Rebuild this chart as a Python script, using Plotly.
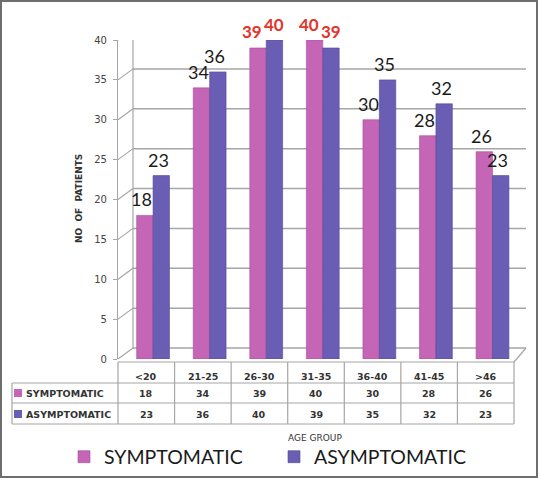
import plotly.graph_objects as go

categories = ["<20", "21-25", "26-30", "31-35", "36-40", "41-45", ">46"]
symptomatic = [18, 34, 39, 40, 30, 28, 26]
asymptomatic = [23, 36, 40, 39, 35, 32, 23]
y_ticks = [0, 5, 10, 15, 20, 25, 30, 35, 40]
highlight = ["26-30", "31-35"]

W, H = 538, 478
PINK = "#C565B6"
BLUE = "#6A5DB4"
GRID = "#A6A6A6"
TXT = "#333333"

def px(x):
    return x / W

def py(y):
    return 1 - y / H

X0, X1 = 118, 514          # plot area (front) in px
Y0, Y40 = 359, 40          # value 0 and 40 in px
DEPTH_X, DEPTH_Y = 15, 11  # perspective offset of the back wall
unit = (Y0 - Y40) / 40.0
dv = DEPTH_Y / unit
colw = (X1 - X0) / 7

fig = go.Figure()

bar_w = 0.29
fig.add_trace(go.Bar(x=categories, y=symptomatic, name="SYMPTOMATIC",
                     marker=dict(color=PINK, line=dict(color="#A94C9B", width=0.6)),
                     width=bar_w, offset=-0.17))
fig.add_trace(go.Bar(x=categories, y=asymptomatic, name="ASYMPTOMATIC",
                     marker=dict(color=BLUE, line=dict(color="#544799", width=0.6)),
                     width=bar_w, offset=-0.17 + bar_w))

shapes = []
# back wall gridlines and perspective connectors
for v in y_ticks:
    shapes.append(dict(type="line", xref="paper", yref="y",
                       x0=px(X0 + DEPTH_X), x1=px(X1 + 12), y0=v + dv, y1=v + dv,
                       line=dict(color=GRID, width=1.5), layer="below"))
    shapes.append(dict(type="line", xref="paper", yref="y",
                       x0=px(X0), x1=px(X0 + DEPTH_X), y0=v, y1=v + dv,
                       line=dict(color=GRID, width=1.2), layer="below"))
# back wall left edge
shapes.append(dict(type="line", xref="paper", yref="y",
                   x0=px(X0 + DEPTH_X), x1=px(X0 + DEPTH_X), y0=dv, y1=40 + dv,
                   line=dict(color=GRID, width=1.2), layer="below"))
# floor right diagonal
shapes.append(dict(type="line", xref="paper", yref="paper",
                   x0=px(X1), x1=px(X1 + 12), y0=py(362), y1=py(Y0 - DEPTH_Y),
                   line=dict(color=GRID, width=1.2), layer="below"))

# table lines
TL = 12
row_y = [362, 383, 403, 424]
col_x = [X0 + i * colw for i in range(8)]
shapes.append(dict(type="line", xref="paper", yref="paper",
                   x0=px(X0), x1=px(X1), y0=py(362), y1=py(362),
                   line=dict(color=GRID, width=1.2)))
for yy in row_y[1:]:
    shapes.append(dict(type="line", xref="paper", yref="paper",
                       x0=px(TL), x1=px(X1), y0=py(yy), y1=py(yy),
                       line=dict(color=GRID, width=1.2)))
for xx in col_x:
    shapes.append(dict(type="line", xref="paper", yref="paper",
                       x0=px(xx), x1=px(xx), y0=py(362), y1=py(424),
                       line=dict(color=GRID, width=1.2)))
shapes.append(dict(type="line", xref="paper", yref="paper",
                   x0=px(TL), x1=px(TL), y0=py(383), y1=py(424),
                   line=dict(color=GRID, width=1.2)))
# row label swatches
for yy, c in [(393, PINK), (414, BLUE)]:
    shapes.append(dict(type="rect", xref="paper", yref="paper",
                       x0=px(14), x1=px(22), y0=py(yy + 4), y1=py(yy - 4),
                       fillcolor=c, line=dict(width=0)))
# outer frame
shapes.append(dict(type="rect", xref="paper", yref="paper",
                   x0=px(1), x1=px(537), y0=py(477), y1=py(1),
                   line=dict(color="#6E6E6E", width=2)))

annotations = []
# data labels
for k, (series, xs) in enumerate([(symptomatic, -0.025), (asymptomatic, -0.025 + bar_w)]):
    for c, v in zip(categories, series):
        red = c in highlight
        extra = (-3 if k == 0 else 3) if red else 0
        annotations.append(dict(
            x=c, y=v, xref="x", yref="y", text=str(v), showarrow=False,
            xanchor="center", yanchor="middle",
            xshift=xs * colw - 3 + extra, yshift=16,
            font=dict(family="Lato", size=18 if not red else 17,
                      color="#E3342B" if red else "#1a1a1a",
                      weight="bold" if red else "normal")))

def ptext(x, y, text, font, xanchor="center", angle=0):
    return dict(x=px(x), y=py(y), xref="paper", yref="paper", text=text,
                showarrow=False, font=font, xanchor=xanchor, yanchor="middle",
                textangle=angle)

# table text
tfont = dict(family="DejaVu Sans", size=9.5, color=TXT, weight="bold")
for i, c in enumerate(categories):
    cx = (col_x[i] + col_x[i + 1]) / 2
    annotations.append(ptext(cx, 376, c.replace("<", "&lt;").replace(">", "&gt;"), tfont))
    annotations.append(ptext(cx, 393, str(symptomatic[i]), tfont))
    annotations.append(ptext(cx, 414, str(asymptomatic[i]), tfont))
annotations.append(ptext(24, 393, "SYMPTOMATIC", tfont, xanchor="left"))
annotations.append(ptext(24, 414, "ASYMPTOMATIC", tfont, xanchor="left"))

# axis titles
annotations.append(ptext(79, 199, "NO  OF  PATIENTS",
                         dict(family="DejaVu Sans", size=9, color=TXT, weight="bold"),
                         angle=-90))
annotations.append(ptext(315, 438, "AGE GROUP",
                         dict(family="DejaVu Sans", size=9, color=TXT)))

fig.update_layout(
    width=W, height=H,
    margin=dict(l=0, r=0, t=0, b=0, autoexpand=False),
    paper_bgcolor="white", plot_bgcolor="white",
    barmode="group",
    showlegend=True,
    legend=dict(orientation="h", x=px(64), xanchor="left", y=py(457), yanchor="middle",
                font=dict(family="Lato", size=19.5, color="#1a1a1a"),
                entrywidth=165, entrywidthmode="pixels", bgcolor="rgba(0,0,0,0)"),
    xaxis=dict(domain=[px(X0), px(X1)], showticklabels=False, showgrid=False,
               zeroline=False, showline=False, ticks=""),
    yaxis=dict(domain=[py(Y0), py(Y40)], range=[0, 40], tickvals=y_ticks,
               showgrid=False, zeroline=False, showline=True, linecolor=GRID,
               linewidth=1.2, ticks="outside", ticklen=4, tickcolor=GRID,
               ticklabelstandoff=4,
               tickfont=dict(family="DejaVu Sans", size=10, color="#444444")),
    shapes=shapes,
    annotations=annotations,
)

fig.write_html("out.html", config={"displayModeBar": False},
               post_script="document.body.style.margin='0';document.body.style.overflow='hidden';")
